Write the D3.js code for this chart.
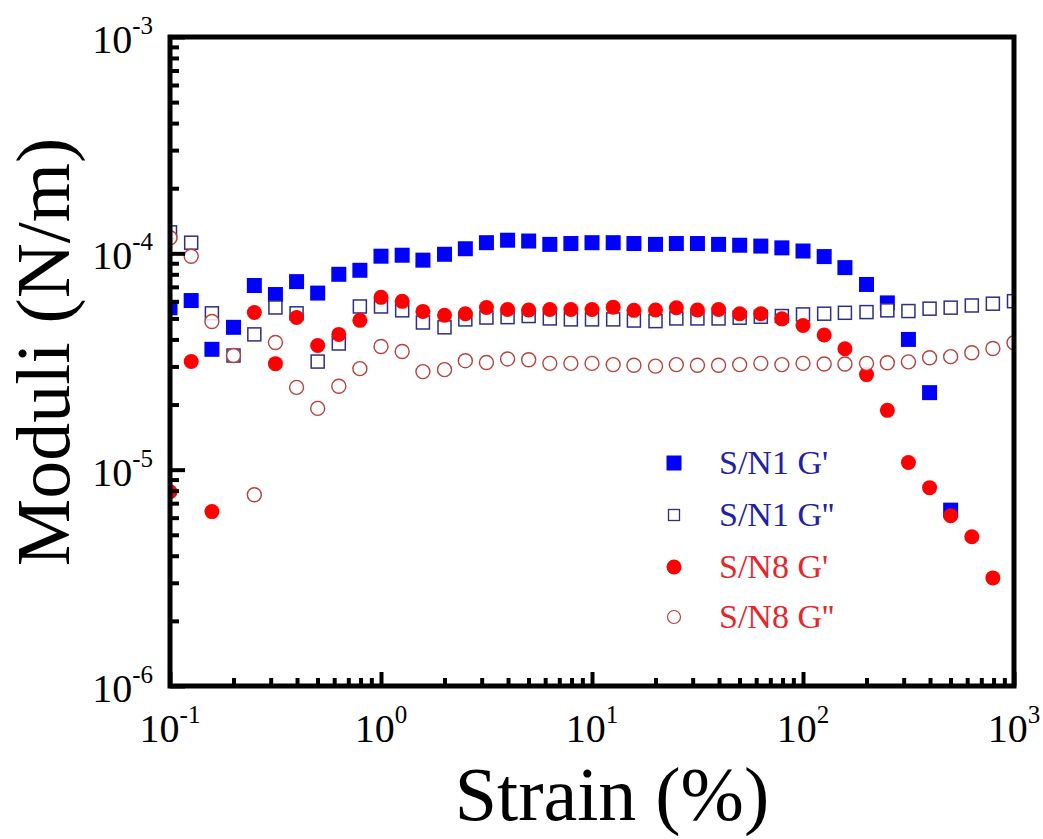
<!DOCTYPE html>
<html>
<head>
<meta charset="utf-8">
<script src="https://cdn.jsdelivr.net/npm/d3@7"></script>
<style>
  body { margin: 0; background: #fff; }
  svg { display: block; }
  text { font-family: "Liberation Serif", "Times New Roman", serif; }
</style>
</head>
<body>
<div id="chart-area"></div>
<script>
// Strain (%) values, 10 points per decade
var strain = [0.1, 0.126, 0.158, 0.2, 0.251, 0.316, 0.398, 0.501, 0.631, 0.794,
    1, 1.26, 1.58, 2, 2.51, 3.16, 3.98, 5.01, 6.31, 7.94,
    10, 12.6, 15.8, 20, 25.1, 31.6, 39.8, 50.1, 63.1, 79.4,
    100, 126, 158, 200, 251, 316, 398, 501, 631, 794, 1000];

// Moduli (N/m)
var s1G1 = [5.6e-5, 6.05e-5, 3.6e-5, 4.55e-5, 7.1e-5, 6.45e-5, 7.4e-5, 6.55e-5, 8.0e-5, 8.35e-5,
    9.7e-5, 9.8e-5, 9.3e-5, 9.9e-5, 1.05e-4, 1.12e-4, 1.15e-4, 1.14e-4, 1.10e-4, 1.11e-4,
    1.12e-4, 1.12e-4, 1.11e-4, 1.10e-4, 1.11e-4, 1.11e-4, 1.10e-4, 1.09e-4, 1.08e-4, 1.06e-4,
    1.025e-4, 9.66e-5, 8.59e-5, 7.18e-5, 5.9e-5, 4.0e-5, 2.27e-5, 6.5e-6, null, null, null];

var s1G2 = [1.25e-4, 1.12e-4, 5.28e-5, 3.37e-5, 4.22e-5, 5.62e-5, 5.28e-5, 3.16e-5, 3.83e-5, 5.68e-5,
    5.68e-5, 5.45e-5, 4.79e-5, 4.55e-5, 4.95e-5, 5.05e-5, 5.07e-5, 5.13e-5, 5.0e-5, 4.95e-5,
    4.95e-5, 4.95e-5, 4.89e-5, 4.86e-5, 5.0e-5, 5.0e-5, 5.0e-5, 5.04e-5, 5.09e-5, 5.13e-5,
    5.22e-5, 5.26e-5, 5.31e-5, 5.35e-5, 5.45e-5, 5.41e-5, 5.55e-5, 5.61e-5, 5.74e-5, 5.85e-5, 6.01e-5];

var s8G1 = [7.9e-6, 3.16e-5, 6.4e-6, null, 5.33e-5, 3.09e-5, 5.05e-5, 3.75e-5, 4.22e-5, 4.9e-5,
    6.26e-5, 6.0e-5, 5.39e-5, 5.17e-5, 5.26e-5, 5.62e-5, 5.5e-5, 5.47e-5, 5.5e-5, 5.5e-5,
    5.5e-5, 5.64e-5, 5.45e-5, 5.47e-5, 5.6e-5, 5.47e-5, 5.5e-5, 5.26e-5, 5.26e-5, 4.98e-5,
    4.64e-5, 4.19e-5, 3.62e-5, 2.75e-5, 1.88e-5, 1.08e-5, 8.26e-6, 6.12e-6, 4.9e-6, 3.16e-6, null];

var s8G2 = [1.18e-4, 9.7e-5, 4.84e-5, 3.37e-5, 7.66e-6, 3.87e-5, 2.4e-5, 1.92e-5, 2.43e-5, 2.93e-5,
    3.71e-5, 3.52e-5, 2.84e-5, 2.9e-5, 3.19e-5, 3.13e-5, 3.25e-5, 3.22e-5, 3.1e-5, 3.1e-5,
    3.1e-5, 3.06e-5, 3.04e-5, 3.01e-5, 3.06e-5, 3.04e-5, 3.04e-5, 3.06e-5, 3.1e-5, 3.06e-5,
    3.1e-5, 3.08e-5, 3.08e-5, 3.1e-5, 3.12e-5, 3.15e-5, 3.29e-5, 3.33e-5, 3.47e-5, 3.63e-5, 3.86e-5];

var legendNames = ["S/N1 G'", "S/N1 G''", "S/N8 G'", "S/N8 G''"];
var xTickExp = [-1, 0, 1, 2, 3];
var yTickExp = [-6, -5, -4, -3];

var W = 1043, H = 839;
var pLeft = 170, pRight = 1014, pTop = 37, pBottom = 686;

var svg = d3.select("#chart-area").append("svg")
    .attr("width", W)
    .attr("height", H);

// Scales
var x = d3.scaleLog().domain([0.1, 1000]).range([pLeft, pRight]);
var y = d3.scaleLog().domain([1e-6, 1e-3]).range([pBottom, pTop]);

svg.append("clipPath").attr("id", "plot-clip")
  .append("rect")
    .attr("x", pLeft).attr("y", pTop)
    .attr("width", pRight - pLeft).attr("height", pBottom - pTop);

var plot = svg.append("g").attr("clip-path", "url(#plot-clip)");

function pts(vals) {
    return strain.map(function(s, i) { return { s: s, v: vals[i] }; })
        .filter(function(d) { return d.v != null; });
}

var blue = "#0000ff", red = "#ff0000",
    navy = "#2e2e86", brick = "#b8413b";

// S/N1 G' - filled squares
plot.selectAll(".s1g1").data(pts(s1G1)).enter().append("rect")
    .attr("x", function(d) { return x(d.s) - 7.5; })
    .attr("y", function(d) { return y(d.v) - 7.5; })
    .attr("width", 15).attr("height", 15)
    .attr("fill", blue);

// S/N1 G'' - open squares
plot.selectAll(".s1g2").data(pts(s1G2)).enter().append("rect")
    .attr("x", function(d) { return x(d.s) - 6.5; })
    .attr("y", function(d) { return y(d.v) - 6.5; })
    .attr("width", 13).attr("height", 13)
    .attr("fill", "#fff")
    .attr("stroke", navy)
    .attr("stroke-width", 1.5);

// S/N8 G' - filled circles
plot.selectAll(".s8g1").data(pts(s8G1)).enter().append("circle")
    .attr("cx", function(d) { return x(d.s); })
    .attr("cy", function(d) { return y(d.v); })
    .attr("r", 7.5)
    .attr("fill", red);

// S/N8 G'' - open circles
plot.selectAll(".s8g2").data(pts(s8G2)).enter().append("circle")
    .attr("cx", function(d) { return x(d.s); })
    .attr("cy", function(d) { return y(d.v); })
    .attr("r", 7)
    .attr("fill", "#fff")
    .attr("fill-opacity", 0.85)
    .attr("stroke", brick)
    .attr("stroke-width", 1.4);

// Axes (ticks pointing inward)
var isDecade = function(v) { return Math.abs(Math.log10(v) - Math.round(Math.log10(v))) < 1e-6; };
var xMinor = x.ticks().filter(function(v) { return !isDecade(v); });
var yMinor = y.ticks().filter(function(v) { return !isDecade(v); });
var xMajor = xTickExp.map(function(e) { return Math.pow(10, e); });
var yMajor = yTickExp.map(function(e) { return Math.pow(10, e); });

function styleAxis(g) {
    g.select(".domain").remove();
    g.selectAll(".tick line").attr("stroke", "#000").attr("stroke-width", 4);
}

svg.append("g").attr("transform", "translate(0," + pBottom + ")")
    .call(d3.axisBottom(x).tickValues(xMinor).tickSize(-8).tickFormat(""))
    .call(styleAxis);
svg.append("g").attr("transform", "translate(0," + pBottom + ")")
    .call(d3.axisBottom(x).tickValues(xMajor).tickSize(-14).tickFormat(""))
    .call(styleAxis);
svg.append("g").attr("transform", "translate(" + pLeft + ",0)")
    .call(d3.axisLeft(y).tickValues(yMinor).tickSize(-9).tickFormat(""))
    .call(styleAxis);
svg.append("g").attr("transform", "translate(" + pLeft + ",0)")
    .call(d3.axisLeft(y).tickValues(yMajor).tickSize(-15).tickFormat(""))
    .call(styleAxis);

// Frame
svg.append("rect")
    .attr("x", pLeft).attr("y", pTop)
    .attr("width", pRight - pLeft).attr("height", pBottom - pTop)
    .attr("fill", "none")
    .attr("stroke", "#000")
    .attr("stroke-width", 5);

// Tick labels 10^n
function powLabel(sel, e) {
    sel.append("tspan").text("10");
    sel.append("tspan").attr("dy", -19).attr("font-size", 25).text(e);
}

svg.selectAll(".xlab").data(xTickExp).enter().append("text")
    .attr("x", function(e) { return x(Math.pow(10, e)); })
    .attr("y", 742)
    .attr("text-anchor", "middle")
    .attr("font-size", 40)
    .each(function(e) { powLabel(d3.select(this), e); });

svg.selectAll(".ylab").data(yTickExp).enter().append("text")
    .attr("x", 153)
    .attr("y", function(e) { return y(Math.pow(10, e)) + 16; })
    .attr("text-anchor", "end")
    .attr("font-size", 40)
    .each(function(e) { powLabel(d3.select(this), e); });

// Axis titles
svg.append("text")
    .attr("x", 612).attr("y", 820)
    .attr("text-anchor", "middle")
    .attr("font-size", 76)
    .text("Strain (%)");

svg.append("text")
    .attr("transform", "translate(69,352) rotate(-90)")
    .attr("text-anchor", "middle")
    .attr("font-size", 76)
    .text("Moduli (N/m)");

// Legend
var legY = [463, 515, 567, 617];
var lg = svg.append("g");
lg.append("rect").attr("x", 674 - 7.5).attr("y", legY[0] - 7.5)
    .attr("width", 15).attr("height", 15).attr("fill", blue);
lg.append("rect").attr("x", 674 - 5.5).attr("y", legY[1] - 5.5)
    .attr("width", 11).attr("height", 11).attr("fill", "#fff")
    .attr("stroke", navy).attr("stroke-width", 1.3);
lg.append("circle").attr("cx", 674).attr("cy", legY[2]).attr("r", 7.5).attr("fill", red);
lg.append("circle").attr("cx", 674).attr("cy", legY[3]).attr("r", 6.5)
    .attr("fill", "#fff").attr("stroke", brick).attr("stroke-width", 1.2);

lg.selectAll("text").data(legendNames).enter().append("text")
    .attr("x", 719)
    .attr("y", function(d, i) { return legY[i] + 11; })
    .attr("font-size", 34)
    .attr("fill", function(d, i) { return i < 2 ? "#2121a6" : "#e5262a"; })
    .text(function(d) { return d; });
</script>
</body>
</html>
